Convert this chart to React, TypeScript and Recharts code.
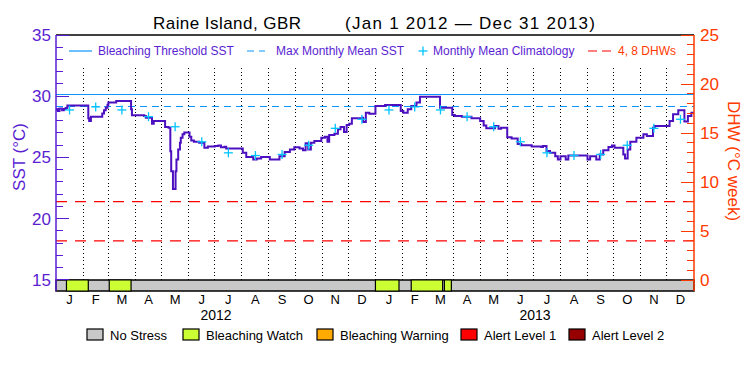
import React from "react";
import {
  ComposedChart,
  Line,
  Scatter,
  XAxis,
  YAxis,
  ReferenceLine,
  ReferenceArea,
} from "recharts";

const FONT = "'Liberation Sans', Arial, sans-serif";
const PURPLE = "#5a1ed2";
const SST_LINE = "#4c10c0";
const ORANGE = "#ff3a00";
const BLUE = "#0a96ff";
const CYAN = "#00c4ff";
const RED = "#ff0000";

// days counted from Jan 1 2012
const monthStarts = [
  0, 31, 60, 91, 121, 152, 182, 213, 244, 274, 305, 335,
  366, 397, 425, 456, 486, 517, 547, 578, 609, 639, 670, 700, 731,
];
const monthLetters = ["J", "F", "M", "A", "M", "J", "J", "A", "S", "O", "N", "D"];
const years = ["2012", "2013"];

const thresholdSST = 30.15;
const mmmSST = 29.15;
const dhwLevels = [4, 8];

// monthly mean climatology, Jan..Dec
const climValues = [28.88, 29.13, 28.88, 28.33, 27.51, 26.28, 25.38, 25.16, 25.25, 26.0, 27.38, 28.12];

const sst2012Days = [
  0, 2, 4, 7, 9, 11, 13, 37, 38, 40, 53, 55, 57, 59, 60, 69, 86, 87, 101, 103, 110, 112,
  125, 129, 131, 132, 134, 137, 138, 140, 142, 143, 145, 147, 153, 155, 158, 164, 170, 174,
  182, 186, 189, 193, 195, 214, 218, 226, 230, 235, 245, 256, 262, 268, 273, 279, 283,
  286, 289, 292, 296, 304, 308, 311, 313, 319, 323, 326, 330, 333, 336, 339, 351, 352, 355, 359,
];
const sst2012 = [
  28.9, 28.8, 29.0, 28.85, 28.95, 29.05, 29.24, 28.2, 27.98, 28.33, 28.6, 28.85, 29.06, 29.3, 29.48, 29.62, 28.93, 28.44, 28.39, 28.25, 27.76, 27.98,
  27.49, 27.43, 25.5, 23.88, 22.43, 23.88, 24.84, 25.66, 26.2, 26.61, 26.9, 27.04, 26.7, 26.39, 26.28, 26.2, 25.79, 25.9,
  25.93, 25.98, 25.84, 25.87, 25.74, 25.38, 25.03, 24.84, 24.92, 25.03, 24.84, 25.11, 25.44, 25.66, 25.84, 25.74, 25.6,
  26.17, 25.66, 26.2, 26.34, 26.61, 26.69, 26.28, 26.83, 26.94, 27.3, 27.49, 27.08, 27.65, 27.76, 28.2, 28.25, 27.9, 28.66, 28.58,
];
const sst2013Days = [
  366, 377, 395, 398, 403, 407, 413, 417, 440, 454, 457, 465, 476,
  486, 490, 493, 503, 507, 510, 517, 522, 529, 533, 545,
  556, 558, 562, 566, 572, 575, 578, 584, 587, 609, 612, 619, 623, 627, 633, 637, 640,
  650, 652, 655, 658, 665, 673, 677, 684, 686, 703, 707, 713, 720, 724, 728, 731,
];
const sst2013 = [
  29.21, 29.29, 28.8, 28.66, 28.93, 29.21, 29.48, 29.95, 29.07, 28.47, 28.39, 28.33, 28.2,
  27.98, 27.62, 27.38, 27.57, 27.35, 27.43, 26.66, 26.55, 26.11, 26.0, 25.9,
  25.85, 25.93, 25.52, 25.38, 25.11, 24.84, 25.11, 24.84, 25.16, 24.84, 25.11, 24.84, 25.25, 25.6, 25.85, 25.98, 25.79,
  25.25, 24.92, 25.66, 26.28, 26.61, 26.89, 26.75, 27.43, 27.57, 27.98, 28.52, 28.85, 27.93, 28.39, 28.66, 28.66,
];

// bleaching watch periods (start/end day)
const watchStart = [12, 61, 366, 407, 445];
const watchEnd = [37, 86, 393, 443, 453];

const stressLabels = ["No Stress", "Bleaching Watch", "Bleaching Warning", "Alert Level 1", "Alert Level 2"];
const stressColors = ["#c8c8c8", "#ccff33", "#ffaa00", "#ff0000", "#960000"];

const sstData = [...sst2012Days, ...sst2013Days].map((day, i) => ({
  day,
  sst: [...sst2012, ...sst2013][i],
}));
const monthMids = monthStarts.slice(0, -1).map((s, i) => (s + monthStarts[i + 1]) / 2);
const climData = monthMids.map((day, i) => ({ day, clim: climValues[i % 12] }));
const dhwData = dhwLevels.map((v) => [
  { day: 0, dhw: v },
  { day: 731, dhw: v },
]);
const leftTicks = Array.from({ length: 21 }, (_, i) => 15 + i);
const rightTicks = Array.from({ length: 26 }, (_, i) => i);

const SST_MIN = 14.1;
const DHW_MIN = -1.122;

const LeftTick = ({ x, y, payload }: any) => {
  const major = payload.value % 5 === 0;
  return (
    <g>
      <line x1={x} x2={x + (major ? 13 : 7)} y1={y} y2={y} stroke={PURPLE} shapeRendering="crispEdges" />
      {major && (
        <text x={x - 5} y={y + 6} textAnchor="end" fontSize={17} fill={PURPLE} fontFamily={FONT}>
          {payload.value}
        </text>
      )}
    </g>
  );
};

const RightTick = ({ x, y, payload }: any) => {
  const major = payload.value % 5 === 0;
  return (
    <g>
      <line x1={x} x2={x - (major ? 13 : 7)} y1={y} y2={y} stroke={ORANGE} shapeRendering="crispEdges" />
      {major && (
        <text x={x + 6} y={y + 6} textAnchor="start" fontSize={17} fill={ORANGE} fontFamily={FONT}>
          {payload.value}
        </text>
      )}
    </g>
  );
};

const MonthTick = ({ x, y, payload }: any) => {
  const idx = monthMids.indexOf(payload.value);
  return (
    <text x={x} y={y + 13} textAnchor="middle" fontSize={13} fill="#000" fontFamily={FONT}>
      {monthLetters[idx % 12]}
    </text>
  );
};

const Cross = ({ cx, cy }: any) => (
  <g>
    <line x1={cx - 4.5} x2={cx + 4.5} y1={cy} y2={cy} stroke={CYAN} strokeWidth={1.3} />
    <line x1={cx} x2={cx} y1={cy - 4.5} y2={cy + 4.5} stroke={CYAN} strokeWidth={1.3} />
  </g>
);

export default function App() {
  return (
    <div style={{ position: "absolute", left: 0, top: 0, width: 750, height: 375, background: "#fff" }}>
      <ComposedChart width={750} height={375} margin={{ top: 35, right: 0, bottom: 54, left: 0 }}>
        <XAxis
          dataKey="day"
          type="number"
          domain={[0, 731]}
          ticks={monthMids}
          interval={0}
          tick={<MonthTick />}
          tickLine={false}
          axisLine={false}
          tickSize={0}
          tickMargin={0}
          height={30}
          allowDataOverflow
        />
        <YAxis
          yAxisId="left"
          orientation="left"
          width={56}
          domain={[SST_MIN, 35]}
          ticks={leftTicks}
          interval={0}
          tick={<LeftTick />}
          tickLine={false}
          tickSize={0}
          tickMargin={0}
          axisLine={{ stroke: PURPLE, strokeWidth: 1.5 }}
          allowDataOverflow
        />
        <YAxis
          yAxisId="right"
          orientation="right"
          width={56}
          domain={[DHW_MIN, 25]}
          ticks={rightTicks}
          interval={0}
          tick={<RightTick />}
          tickLine={false}
          tickSize={0}
          tickMargin={0}
          axisLine={{ stroke: ORANGE, strokeWidth: 1.5 }}
          allowDataOverflow
        />

        {monthStarts.slice(1, -1).map((d) => (
          <ReferenceLine
            key={"m" + d}
            yAxisId="left"
            segment={[
              { x: d, y: 15 },
              { x: d, y: 32.55 },
            ]}
            stroke="#000"
            strokeDasharray="1 2.7"
            shapeRendering="crispEdges"
          />
        ))}
        <ReferenceLine yAxisId="left" y={35} stroke="#000" strokeWidth={1.5} />
        <ReferenceLine yAxisId="left" y={thresholdSST} stroke={BLUE} strokeWidth={1.2} shapeRendering="crispEdges" />
        <ReferenceLine
          yAxisId="left"
          y={mmmSST}
          stroke={BLUE}
          strokeWidth={1.2}
          strokeDasharray="7 5"
          shapeRendering="crispEdges"
        />
        {dhwData.map((d, i) => (
          <Line
            key={"dhw" + i}
            yAxisId="right"
            data={d}
            dataKey="dhw"
            type="linear"
            stroke={RED}
            strokeWidth={1.3}
            strokeDasharray="11 8"
            dot={false}
            activeDot={false}
            isAnimationActive={false}
          />
        ))}

        <ReferenceArea
          yAxisId="left"
          x1={0}
          x2={731}
          y1={SST_MIN}
          y2={15}
          fill={stressColors[0]}
          fillOpacity={1}
          stroke="#000"
          strokeWidth={1.5}
        />
        {watchStart.map((s, i) => (
          <ReferenceArea
            key={"w" + i}
            yAxisId="left"
            x1={s}
            x2={watchEnd[i]}
            y1={SST_MIN}
            y2={15}
            fill={stressColors[1]}
            fillOpacity={1}
            stroke="#000"
            strokeWidth={1.2}
          />
        ))}

        <Line
          yAxisId="left"
          data={sstData}
          dataKey="sst"
          type="stepAfter"
          stroke={SST_LINE}
          strokeWidth={2}
          dot={false}
          isAnimationActive={false}
        />
        <Scatter yAxisId="left" data={climData} dataKey="clim" shape={<Cross />} isAnimationActive={false} />
      </ComposedChart>

      <svg
        width={750}
        height={375}
        style={{ position: "absolute", left: 0, top: 0, pointerEvents: "none" }}
        fontFamily={FONT}
      >
        <text x={153} y={29} fontSize={17} textLength={148} lengthAdjust="spacing">
          Raine Island, GBR
        </text>
        <text x={345} y={29} fontSize={17} textLength={250} lengthAdjust="spacing">
          (Jan 1 2012 — Dec 31 2013)
        </text>

        <line x1={69} x2={92} y1={51} y2={51} stroke={BLUE} strokeWidth={1.2} />
        <text x={98} y={55} fontSize={12} fill={PURPLE}>Bleaching Threshold SST</text>
        <line x1={247} x2={265} y1={51} y2={51} stroke={BLUE} strokeWidth={1.2} strokeDasharray="7 5" />
        <text x={276} y={55} fontSize={12} fill={PURPLE}>Max Monthly Mean SST</text>
        <line x1={418.5} x2={427.5} y1={51} y2={51} stroke={CYAN} strokeWidth={1.3} />
        <line x1={423} x2={423} y1={46.5} y2={55.5} stroke={CYAN} strokeWidth={1.3} />
        <text x={433} y={55} fontSize={12} fill={PURPLE}>Monthly Mean Climatology</text>
        <line x1={588} x2={612} y1={51} y2={51} stroke={RED} strokeWidth={1.2} strokeDasharray="9 5" />
        <text x={618} y={55} fontSize={12} fill={ORANGE}>4, 8 DHWs</text>

        <text transform="translate(25,157) rotate(-90)" textAnchor="middle" fontSize={17} fill={PURPLE}>
          SST (°C)
        </text>
        <text transform="translate(728,161) rotate(90)" textAnchor="middle" fontSize={17} fill={ORANGE}>
          DHW (°C week)
        </text>

        <text x={216} y={320} textAnchor="middle" fontSize={14}>{years[0]}</text>
        <text x={535} y={320} textAnchor="middle" fontSize={14}>{years[1]}</text>

        {stressLabels.map((label, i) => {
          const bx = [87, 183, 317, 461, 569][i];
          return (
            <g key={label}>
              <rect x={bx} y={329} width={16} height={11} fill={stressColors[i]} stroke="#000" strokeWidth={1.2} />
              <text x={bx + 23} y={340} fontSize={13}>{label}</text>
            </g>
          );
        })}
      </svg>
    </div>
  );
}
